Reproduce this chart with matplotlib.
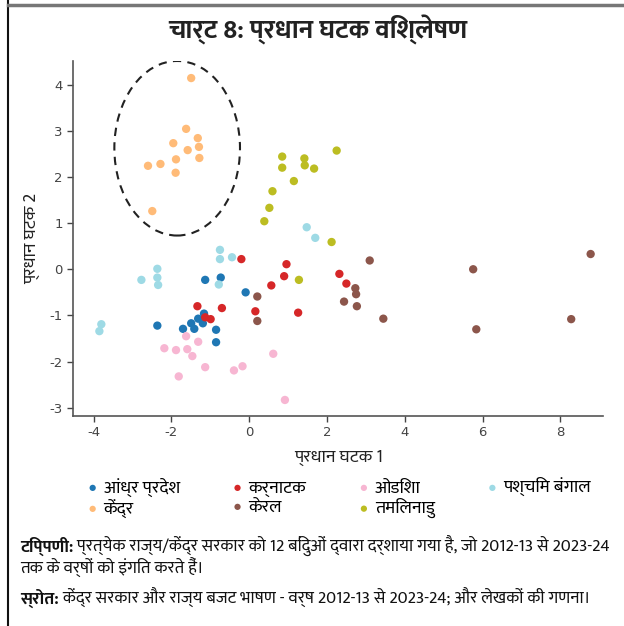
import matplotlib
matplotlib.use('Agg')
import matplotlib.pyplot as plt
from matplotlib import font_manager
from matplotlib.patches import Ellipse
from matplotlib.lines import Line2D

# pick an installed Devanagari family
names = {f.name for f in font_manager.fontManager.ttflist}
deva = next((n for n in ['Ek Mukta', 'Mukta', 'Hind', 'Noto Sans Devanagari', 'FreeSans'] if n in names), 'DejaVu Sans')
plt.rcParams['font.family'] = [deva, 'DejaVu Sans']
plt.rcParams['axes.unicode_minus'] = False

# data: (PC1, PC2) per year, 12 points each
states = ['आंध्र प्रदेश', 'केंद्र', 'कर्नाटक', 'केरल', 'ओडिशा', 'तमिलनाडु', 'पश्चिम बंगाल']
colors = ['#1f77b4', '#ffbb78', '#d62728', '#8c564b', '#f7b6d2', '#bcbd22', '#9edae5']

ap_x = [-1.13, -0.73, -0.09, -2.36, -1.16, -1.31, -1.49, -1.19, -1.70, -1.41, -0.85, -0.85]
ap_y = [-0.23, -0.18, -0.50, -1.22, -0.96, -1.07, -1.17, -1.17, -1.29, -1.29, -1.31, -1.58]
kendra_x = [-1.49, -1.62, -1.95, -1.32, -1.58, -1.29, -1.88, -1.28, -2.60, -2.28, -1.89, -2.49]
kendra_y = [4.14, 3.04, 2.73, 2.84, 2.58, 2.65, 2.38, 2.41, 2.24, 2.28, 2.09, 1.26]
ka_x = [-0.20, 0.96, 0.90, 0.57, -1.33, -0.70, 0.16, 1.26, -1.13, -0.99, 2.32, 2.50]
ka_y = [0.22, 0.11, -0.15, -0.35, -0.80, -0.84, -0.91, -0.94, -1.04, -1.08, -0.10, -0.31]
kl_x = [3.10, 0.21, 0.21, 2.73, 2.75, 2.44, 2.77, 3.45, 8.78, 5.76, 5.84, 8.28]
kl_y = [0.19, -0.59, -1.12, -0.41, -0.54, -0.70, -0.80, -1.07, 0.33, -0.00, -1.30, -1.08]
od_x = [-1.62, -1.31, -2.18, -1.88, -1.59, -1.46, 0.62, -1.13, -0.17, -0.39, -1.81, 0.92]
od_y = [-1.45, -1.57, -1.71, -1.75, -1.73, -1.88, -1.83, -2.12, -2.10, -2.19, -2.32, -2.83]
tn_x = [2.25, 0.85, 1.42, 0.85, 1.43, 1.67, 1.15, 0.60, 0.52, 0.39, 2.12, 1.28]
tn_y = [2.57, 2.44, 2.40, 2.20, 2.25, 2.18, 1.91, 1.69, 1.33, 1.04, 0.59, -0.23]
wb_x = [-0.75, -0.75, -0.44, -2.36, -2.36, -2.77, -2.34, -0.78, -3.80, -3.85, 1.48, 1.70]
wb_y = [0.42, 0.22, 0.26, 0.01, -0.18, -0.23, -0.34, -0.33, -1.19, -1.34, 0.91, 0.68]

xs = [ap_x, kendra_x, ka_x, kl_x, od_x, tn_x, wb_x]
ys = [ap_y, kendra_y, ka_y, kl_y, od_y, tn_y, wb_y]

fig = plt.figure(figsize=(6.24, 6.26), dpi=100)
ax = fig.add_axes([0.1175, 0.336, 0.849, 0.5666])

for name, c, x, y in zip(states, colors, xs, ys):
    ax.scatter(x, y, s=36, color=c, edgecolors='none', label=name, zorder=3)

# circle around Kendra
ax.add_patch(Ellipse((-1.85, 2.62), 3.23, 3.78, fill=False, ls=(0, (4, 3)), lw=1.5, color='#222222'))

ax.set_xlim(-4.52, 9.1)
ax.set_ylim(-3.17, 4.51)
ax.set_xticks([-4, -2, 0, 2, 4, 6, 8])
ax.set_yticks([-3, -2, -1, 0, 1, 2, 3, 4])
for lab in ax.get_xticklabels() + ax.get_yticklabels():
    lab.set_fontfamily('DejaVu Sans')
    lab.set_fontsize(9.5)
    lab.set_color('#222222')
ax.tick_params(colors='#444444', length=4, width=1)
for s in ['top', 'right']:
    ax.spines[s].set_visible(False)
for s in ['left', 'bottom']:
    ax.spines[s].set_color('#555555')
    ax.spines[s].set_linewidth(1.2)

ax.set_xlabel('प्रधान घटक 1', fontsize=13, color='#222222', labelpad=7)
ax.set_ylabel('प्रधान घटक 2', fontsize=13, color='#222222', labelpad=7)

fig.text(0.51, 0.952, 'चार्ट 8: प्रधान घटक विश्लेषण', fontsize=19, fontweight='bold',
         ha='center', va='center', color='#222222')

leg = fig.legend(loc='upper left', bbox_to_anchor=(0.108, 0.263), ncol=4, frameon=False,
                 fontsize=13, markerscale=0.75, handletextpad=0.1, columnspacing=2.7,
                 labelspacing=0.1, handlelength=1.0)

# footnotes
fig.canvas.draw()
r = fig.canvas.get_renderer()
notes = [('टिप्पणी:', ' प्रत्येक राज्य/केंद्र सरकार को 12 बिंदुओं द्वारा दर्शाया गया है, जो 2012-13 से 2023-24', 0.119),
         ('', 'तक के वर्षों को इंगित करते हैं।', 0.083),
         ('स्रोत:', ' केंद्र सरकार और राज्य बजट भाषण - वर्ष 2012-13 से 2023-24; और लेखकों की गणना।', 0.035)]
for bold, rest, yy in notes:
    x0 = 0.032
    if bold:
        t = fig.text(x0, yy, bold, fontsize=12.4, fontweight='bold', va='baseline', color='#111111')
        x0 += t.get_window_extent(r).width / fig.bbox.width
    fig.text(x0, yy, rest, fontsize=12.4, va='baseline', color='#111111')

# page frame
fig.add_artist(Line2D([8 / 624, 8 / 624], [0, 1], transform=fig.transFigure, color='#111111', lw=1.5))
fig.add_artist(Line2D([8 / 624, 1], [1 - 5 / 626, 1 - 5 / 626], transform=fig.transFigure, color='#777777', lw=2.5))

fig.savefig('out.png', dpi=100)
